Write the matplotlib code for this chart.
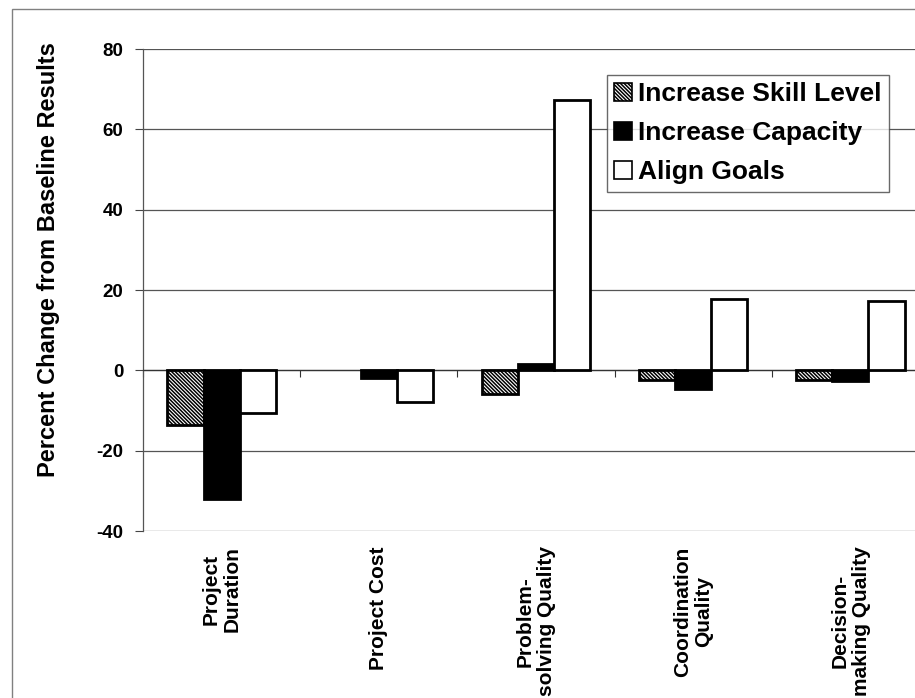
import numpy as np
import matplotlib.pyplot as plt
from matplotlib.patches import Rectangle
from matplotlib.transforms import blended_transform_factory

plt.rcParams['font.family'] = ['Liberation Sans', 'DejaVu Sans']
plt.rcParams['hatch.linewidth'] = 1.1

categories = ['Project\nDuration', 'Project Cost', 'Problem-\nsolving Quality',
              'Coordination\nQuality', 'Decision-\nmaking Quality']
series_names = ['Increase Skill Level', 'Increase Capacity', 'Align Goals']
skill_level = [-13.5, 0.0, -6.0, -2.5, -2.5]
capacity = [-32.0, -2.0, 1.7, -4.7, -2.7]
align_goals = [-10.5, -8.0, 67.3, 17.7, 17.2]
y_ticks = [-40, -20, 0, 20, 40, 60, 80]

fig = plt.figure(figsize=(9.15, 6.98), dpi=100)
fig.patch.set_facecolor('white')

# thin frame round the whole chart area
fig.patches.append(Rectangle((12 / 915, -0.1), 1.2, 1.1 - 9 / 698, transform=fig.transFigure,
                             fill=False, edgecolor='#808080', linewidth=1.0))

ax = fig.add_axes([143 / 915, 1 - 531 / 698, 786 / 915, 482 / 698])

x = np.arange(len(categories))
w = 0.23
styles = [dict(facecolor='white', hatch='\\' * 9, edgecolor='black'),
          dict(facecolor='black', edgecolor='black'),
          dict(facecolor='white', edgecolor='black')]
for i, (vals, name, st) in enumerate(zip([skill_level, capacity, align_goals], series_names, styles)):
    # zero-height bars get no outline
    lw = [2.0 if v != 0 else 0.0 for v in vals]
    ax.bar(x + (i - 1) * w, vals, width=w, linewidth=lw, label=name, zorder=3, **st)

ax.set_xlim(-0.5, len(categories) - 0.5)
ax.set_ylim(-40, 80)
ax.set_yticks(y_ticks)
ax.set_yticklabels([str(t) for t in y_ticks], fontsize=13.5, fontweight='bold')
ax.yaxis.grid(True, color='#555555', linewidth=0.9, zorder=0)
ax.tick_params(axis='y', length=6, width=0.8, color='#444444', pad=8)

for s in ['top', 'right']:
    ax.spines[s].set_visible(False)
ax.spines['left'].set_color('#555555')
ax.spines['left'].set_linewidth(0.9)
ax.spines['bottom'].set_position(('data', 0))
ax.spines['bottom'].set_color('#333333')
ax.spines['bottom'].set_linewidth(0.9)
ax.set_xticks(x)
ax.set_xticklabels([])
ax.tick_params(axis='x', which='major', length=0)
ax.set_xticks(np.arange(len(categories) + 1) - 0.5, minor=True)
ax.tick_params(axis='x', which='minor', length=5, width=0.8, direction='out', color='#333333')

trans = blended_transform_factory(ax.transData, ax.transAxes)
for xi, lab in zip(x, categories):
    ax.text(xi, -0.032, lab, transform=trans, rotation=90, ha='center', va='top',
            multialignment='center', fontsize=15, fontweight='bold', linespacing=1.15)

ax.set_ylabel('Percent Change from Baseline Results', fontsize=17, fontweight='bold')
ax.yaxis.set_label_coords(-0.106, 0.564)

leg = ax.legend(loc='upper left', bbox_to_anchor=((607 - 143) / 786, 1 - 26 / 482),
                prop={'size': 19, 'weight': 'bold'}, frameon=True, fancybox=False,
                handlelength=0.68, handleheight=0.68, handletextpad=0.23, labelspacing=0.57,
                borderpad=0.28, borderaxespad=0.0)
leg.get_frame().set_edgecolor('#444444')
leg.get_frame().set_linewidth(1.0)
for h in leg.legend_handles:
    h.set_linewidth(1.2)

fig.savefig('out.png', dpi=100, facecolor='white')
